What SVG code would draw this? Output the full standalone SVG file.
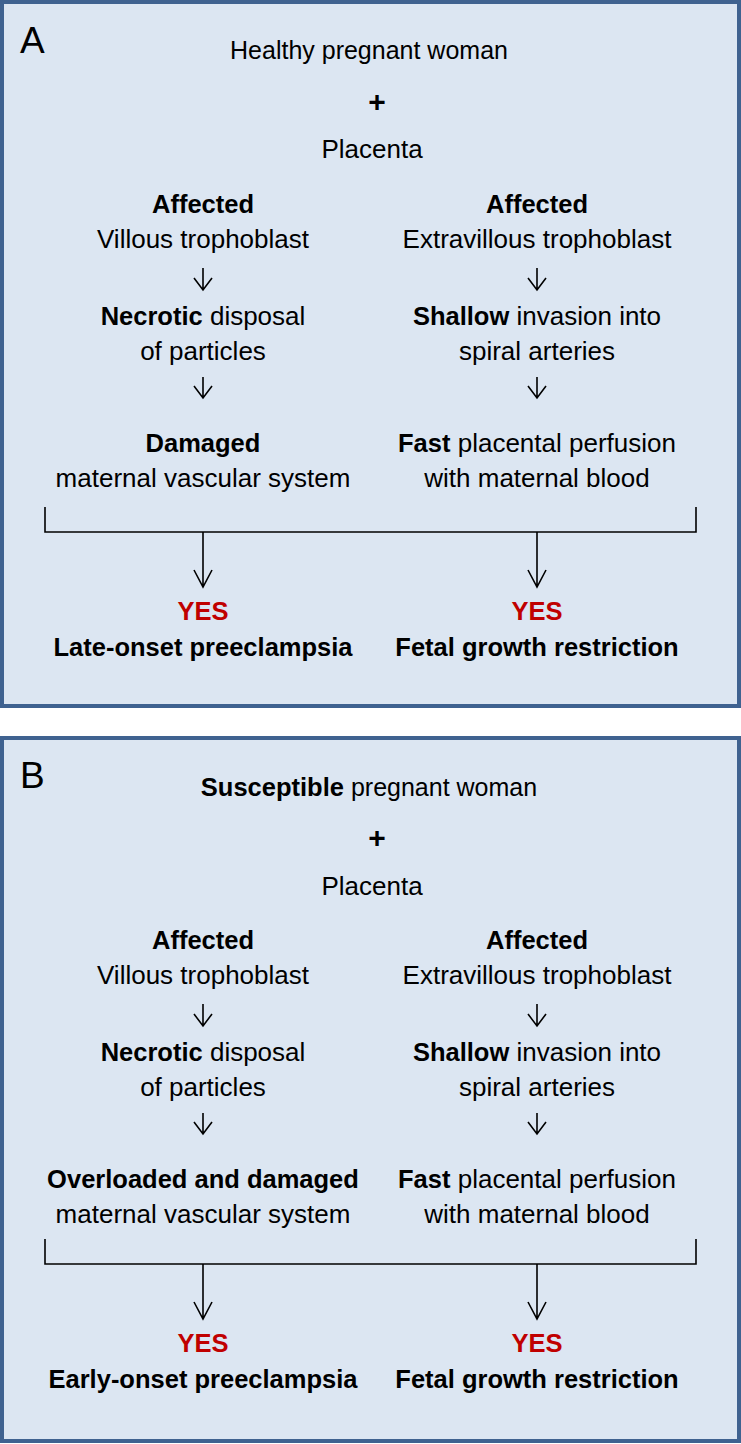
<svg xmlns="http://www.w3.org/2000/svg" width="741" height="1444" viewBox="0 0 741 1444">
<style>
.panel{fill:#DCE6F2;stroke:#3F6290;stroke-width:4}
text{font-family:"Liberation Sans",Arial,sans-serif;font-size:26px;fill:#000;text-anchor:middle}
.lbl{font-size:37px;text-anchor:start}
.b{font-weight:bold;font-size:25.5px}
.yes{font-weight:bold;font-size:25.5px;fill:#C00000}
.plus{font-size:30px;font-weight:bold}
.ln{fill:none;stroke:#000;stroke-width:1.6}
</style>
<rect width="741" height="1444" fill="#FFFFFF"/>
<g id="panelA">
<rect class="panel" x="2" y="2" width="737" height="704"/>
<text class="lbl" x="20" y="53">A</text>
<g id="A-woman"><text x="369" y="59" style="font-size:25px">Healthy pregnant woman</text></g>
<g id="A-plus"><text class="plus" x="377" y="112">+</text></g>
<g id="A-placenta"><text x="372" y="158">Placenta</text></g>
<g id="A-villous"><text x="203" y="213" class="b">Affected</text><text x="203" y="248">Villous trophoblast</text></g>
<g id="A-extra"><text x="537" y="213" class="b">Affected</text><text x="537" y="248">Extravillous trophoblast</text></g>
<g id="A-necrotic"><text x="203" y="325"><tspan class="b">Necrotic</tspan> disposal</text><text x="203" y="360">of particles</text></g>
<g id="A-shallow"><text x="537" y="325"><tspan class="b">Shallow</tspan> invasion into</text><text x="537" y="360">spiral arteries</text></g>
<g id="A-damaged"><text x="203" y="452" class="b">Damaged</text><text x="203" y="487">maternal vascular system</text></g>
<g id="A-fast"><text x="537" y="452"><tspan class="b">Fast</tspan> placental perfusion</text><text x="537" y="487">with maternal blood</text></g>
<g id="A-pe"><text x="203" y="620" class="yes">YES</text><text x="203" y="656" class="b">Late-onset preeclampsia</text></g>
<g id="A-fgr"><text x="537" y="620" class="yes">YES</text><text x="537" y="656" class="b">Fetal growth restriction</text></g>
</g>
<g id="panelB">
<rect class="panel" x="2" y="738" width="737" height="703"/>
<text class="lbl" x="20" y="788">B</text>
<g id="B-woman"><text x="369" y="796" style="font-size:25px"><tspan class="b">Susceptible</tspan> pregnant woman</text></g>
<g id="B-plus"><text class="plus" x="377" y="848">+</text></g>
<g id="B-placenta"><text x="372" y="895">Placenta</text></g>
<g id="B-villous"><text x="203" y="949" class="b">Affected</text><text x="203" y="984">Villous trophoblast</text></g>
<g id="B-extra"><text x="537" y="949" class="b">Affected</text><text x="537" y="984">Extravillous trophoblast</text></g>
<g id="B-necrotic"><text x="203" y="1061"><tspan class="b">Necrotic</tspan> disposal</text><text x="203" y="1096">of particles</text></g>
<g id="B-shallow"><text x="537" y="1061"><tspan class="b">Shallow</tspan> invasion into</text><text x="537" y="1096">spiral arteries</text></g>
<g id="B-overloaded"><text x="203" y="1188" class="b">Overloaded and damaged</text><text x="203" y="1223">maternal vascular system</text></g>
<g id="B-fast"><text x="537" y="1188"><tspan class="b">Fast</tspan> placental perfusion</text><text x="537" y="1223">with maternal blood</text></g>
<g id="B-pe"><text x="203" y="1352" class="yes">YES</text><text x="203" y="1388" class="b">Early-onset preeclampsia</text></g>
<g id="B-fgr"><text x="537" y="1352" class="yes">YES</text><text x="537" y="1388" class="b">Fetal growth restriction</text></g>
</g>
<g id="connectors" class="ln">
<path d="M203 268V290M194 278L203 290L212 278"/>
<path d="M537 268V290M528 278L537 290L546 278"/>
<path d="M203 377V398M194 386L203 398L212 386"/>
<path d="M537 377V398M528 386L537 398L546 386"/>
<path d="M45 507V532H696V507"/>
<path d="M203 532V587M194 570L203 587L212 570"/>
<path d="M537 532V587M528 570L537 587L546 570"/>
<path d="M203 1004V1026M194 1014L203 1026L212 1014"/>
<path d="M537 1004V1026M528 1014L537 1026L546 1014"/>
<path d="M203 1113V1134M194 1122L203 1134L212 1122"/>
<path d="M537 1113V1134M528 1122L537 1134L546 1122"/>
<path d="M45 1239V1264H696V1239"/>
<path d="M203 1264V1319M194 1302L203 1319L212 1302"/>
<path d="M537 1264V1319M528 1302L537 1319L546 1302"/>
</g>
</svg>
